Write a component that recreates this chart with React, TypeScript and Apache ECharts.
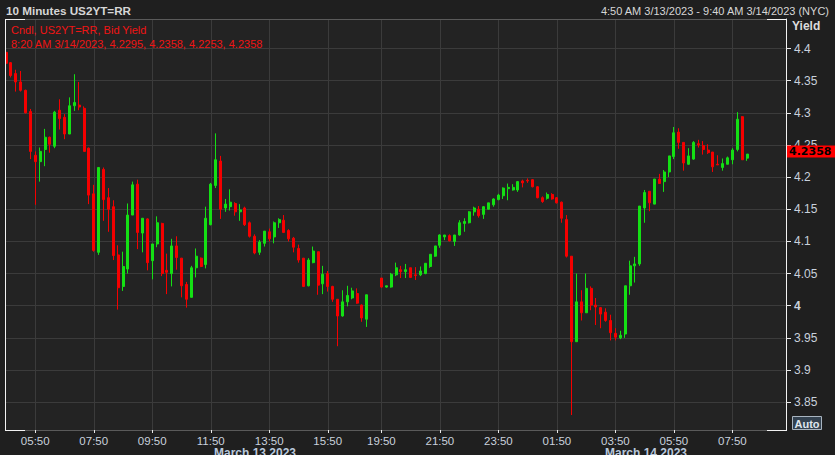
import React, { useEffect, useRef } from 'react';
import * as echarts from 'echarts';

// 10-minute candles, index 0 = 04:50 3/13/2023; nulls = no trade in slot
const opens = [
  4.394, 4.378, 4.361, 4.348, 4.335, 4.302, 4.234, 4.224, 4.243, 4.262,
  4.248, 4.304, 4.293, 4.267, 4.311, 4.312, 4.307, 4.245, 4.174, 4.083,
  4.212, 4.168, 4.154, 4.079, 4.030, 4.057, 4.141, 4.189, 4.113, 4.135,
  4.070, 4.096, 4.128, 4.055, 4.050, 4.093, 4.074, 4.033, 4.013, 4.059,
  4.074, 4.064, 4.126, 4.187, 4.225, 4.152, 4.154, 4.159, 4.146, 4.152,
  4.129, 4.108, 4.083, 4.097, 4.115, 4.107, 4.129, 4.133, 4.117, 4.105,
  4.089, 4.074, 4.031, 4.067, 4.084, 4.034, 4.050, 4.030, 4.010, 3.984,
  4.006, 4.012, 4.019, 4.001, 3.979, null, null, 4.043, 4.029, 4.029,
  4.048, 4.056, 4.053, 4.059, 4.048, 4.048, 4.050, 4.061, 4.077, 4.094,
  4.107, 4.109, 4.100, 4.110, 4.128, 4.129, 4.146, 4.150, 4.142, 4.150,
  4.157, 4.165, 4.171, 4.182, 4.180, 4.180, 4.194, 4.195, 4.196, 4.185,
  4.168, 4.167, 4.173, 4.168, 4.161, 4.134, 4.077, 3.944, 4.006, 3.989,
  4.027, 4.001, 3.997, 3.990, 3.977, 3.957, 3.950, 3.956, 4.031, 4.062,
  4.065, 4.152, 4.178, 4.158, 4.197, 4.193, 4.208, 4.232, 4.270, 4.254,
  4.220, 4.228, 4.252, 4.249, 4.242, 4.239, 4.220, 4.215, 4.220, 4.227,
  4.243, 4.294, 4.2295,
];
const closes = [
  4.377, 4.358, 4.348, 4.335, 4.300, 4.240, 4.224, 4.240, 4.262, 4.251,
  4.301, 4.291, 4.267, 4.311, 4.316, 4.309, 4.240, 4.172, 4.086, 4.215,
  4.165, 4.150, 4.078, 4.028, 4.061, 4.141, 4.188, 4.114, 4.136, 4.067,
  4.096, 4.129, 4.050, 4.052, 4.093, 4.075, 4.031, 4.010, 4.059, 4.077,
  4.061, 4.136, 4.189, 4.227, 4.150, 4.158, 4.161, 4.146, 4.149, 4.126,
  4.108, 4.082, 4.099, 4.116, 4.104, 4.129, 4.134, 4.114, 4.104, 4.091,
  4.071, 4.030, 4.071, 4.085, 4.032, 4.049, 4.030, 4.010, 3.984, 4.006,
  4.016, 4.023, 4.004, 3.981, 4.017, null, null, 4.029, 4.031, 4.049,
  4.059, 4.053, 4.056, 4.044, 4.047, 4.054, 4.066, 4.080, 4.093, 4.110,
  4.110, 4.101, 4.110, 4.129, 4.131, 4.146, 4.152, 4.140, 4.154, 4.160,
  4.166, 4.172, 4.183, 4.184, 4.184, 4.193, 4.191, 4.194, 4.185, 4.168,
  4.162, 4.173, 4.166, 4.160, 4.136, 4.077, 3.944, 4.006, 3.989, 4.027,
  4.001, 3.998, 3.987, 3.977, 3.958, 3.951, 3.954, 4.031, 4.062, 4.065,
  4.155, 4.176, 4.160, 4.197, 4.190, 4.208, 4.233, 4.269, 4.254, 4.222,
  4.233, 4.254, 4.250, 4.243, 4.238, 4.216, 4.219, 4.221, 4.230, 4.242,
  4.290, 4.227, 4.2358,
];
const lows = [
  4.376, 4.355, 4.333, 4.333, 4.299, 4.228, 4.157, 4.193, 4.217, 4.238,
  4.245, 4.274, 4.259, 4.267, 4.303, 4.304, 4.240, 4.158, 4.084, 4.079,
  4.132, 4.115, 4.071, 3.994, 4.023, 4.050, 4.141, 4.088, 4.083, 4.055,
  4.041, 4.091, 4.046, 4.018, 4.030, 4.056, 4.013, 3.997, 4.013, 4.044,
  4.060, 4.058, 4.125, 4.183, 4.135, 4.146, 4.148, 4.140, 4.132, 4.124,
  4.106, 4.080, 4.079, 4.092, 4.100, 4.097, 4.121, 4.113, 4.100, 4.083,
  4.067, 4.029, 4.030, 4.066, 4.017, 4.018, 4.022, 4.006, 3.937, 3.983,
  3.999, 4.010, 4.003, 3.975, 3.967, null, null, 4.028, 4.028, 4.028,
  4.046, 4.043, 4.043, 4.043, 4.040, 4.046, 4.049, 4.059, 4.076, 4.090,
  4.102, 4.100, 4.093, 4.109, 4.115, 4.128, 4.140, 4.137, 4.135, 4.150,
  4.154, 4.164, 4.166, 4.164, 4.179, 4.177, 4.184, 4.191, 4.184, 4.167,
  4.160, 4.165, 4.165, 4.159, 4.129, 4.075, 3.830, 3.944, 3.977, 3.989,
  3.993, 3.970, 3.965, 3.975, 3.946, 3.946, 3.948, 3.950, 4.017, 4.036,
  4.062, 4.129, 4.147, 4.158, 4.190, 4.177, 4.200, 4.228, 4.244, 4.210,
  4.219, 4.227, 4.246, 4.235, 4.236, 4.208, 4.219, 4.210, 4.220, 4.220,
  4.240, 4.227, 4.2253,
];
const highs = [
  4.424, 4.379, 4.367, 4.365, 4.336, 4.306, 4.240, 4.246, 4.275, 4.263,
  4.303, 4.321, 4.298, 4.324, 4.360, 4.348, 4.310, 4.246, 4.188, 4.215,
  4.215, 4.183, 4.164, 4.094, 4.084, 4.159, 4.193, 4.196, 4.136, 4.136,
  4.096, 4.139, 4.129, 4.081, 4.104, 4.108, 4.074, 4.037, 4.062, 4.089,
  4.075, 4.154, 4.191, 4.268, 4.233, 4.166, 4.181, 4.161, 4.158, 4.154,
  4.131, 4.111, 4.102, 4.116, 4.120, 4.131, 4.136, 4.141, 4.119, 4.107,
  4.095, 4.074, 4.074, 4.092, 4.084, 4.062, 4.054, 4.031, 4.010, 4.024,
  4.031, 4.028, 4.027, 4.002, 4.017, null, null, 4.043, 4.031, 4.051,
  4.067, 4.062, 4.065, 4.059, 4.060, 4.061, 4.066, 4.080, 4.093, 4.111,
  4.110, 4.111, 4.110, 4.133, 4.136, 4.147, 4.154, 4.155, 4.155, 4.160,
  4.167, 4.174, 4.184, 4.190, 4.189, 4.194, 4.196, 4.198, 4.197, 4.186,
  4.170, 4.176, 4.175, 4.169, 4.162, 4.141, 4.077, 4.050, 4.024, 4.050,
  4.030, 4.012, 3.998, 3.996, 3.986, 3.965, 3.961, 4.031, 4.070, 4.076,
  4.155, 4.180, 4.178, 4.197, 4.205, 4.211, 4.233, 4.278, 4.276, 4.254,
  4.245, 4.256, 4.258, 4.256, 4.251, 4.239, 4.234, 4.229, 4.232, 4.245,
  4.301, 4.295, 4.2358,
];

const yTicks = [3.85, 3.9, 3.95, 4.0, 4.05, 4.1, 4.15, 4.2, 4.25, 4.3, 4.35, 4.4];
const Y_MIN = 3.8067;
const Y_MAX = 4.4459;

// time slots of the axis: 04:50 3/13 .. 09:40 3/14 (quiet evening hours skipped)
const SLOT_COUNT = 161;
const START_MIN = 4 * 60 + 50;
const BREAK_INDEX = 75;
const BREAK_SKIP = 130;
const pad = (n: number) => (n < 10 ? '0' + n : '' + n);
const categories: string[] = [];
for (let i = 0; i < SLOT_COUNT; i++) {
  let m = START_MIN + i * 10 + (i >= BREAK_INDEX ? BREAK_SKIP : 0);
  m = m % 1440;
  categories.push(pad(Math.floor(m / 60)) + ':' + pad(m % 60));
}
const lastIndex = closes.length - 1;
const lastTimeLabel = '8:20 AM 3/14/2023';

const isLabelSlot = (_idx: number, value: string) => {
  const [h, m] = value.split(':').map(Number);
  return m === 50 && h % 2 === 1;
};

const UP = '#14e014';
const DOWN = '#f50000';
const TEXT = '#c9d1dc';
const FONT = 'Liberation Sans, Arial, sans-serif';

export default function App() {
  const ref = useRef<HTMLDivElement>(null);
  useEffect(() => {
    if (!ref.current) return;
    const chart = echarts.init(ref.current, null, { renderer: 'svg' });
    const data = opens.map((o, i) =>
      o == null ? ['-', '-', '-', '-'] : [o, closes[i], lows[i], highs[i]]
    );
    const option: any = {
      animation: false,
      backgroundColor: '#1f1f1f',
      textStyle: { fontFamily: FONT },
      grid: {
        left: 6, right: 49, top: 19, bottom: 25,
        show: true, backgroundColor: '#232323', borderWidth: 0,
      },
      xAxis: {
        type: 'category',
        data: categories,
        boundaryGap: false,
        axisLine: { show: true, lineStyle: { color: '#5a5a5a', width: 1 } },
        axisTick: { show: true, interval: isLabelSlot, length: 3, lineStyle: { color: '#e8e8e8' } },
        axisLabel: { interval: isLabelSlot, color: TEXT, fontSize: 11.5, margin: 5, fontFamily: FONT },
        splitLine: { show: true, interval: isLabelSlot, lineStyle: { color: '#3b3b3b', width: 1 } },
      },
      yAxis: {
        type: 'value',
        position: 'right',
        min: Y_MIN,
        max: Y_MAX,
        axisLine: { show: true, lineStyle: { color: '#f2f2f2', width: 1 } },
        axisTick: { show: true, length: 5, customValues: yTicks, lineStyle: { color: '#e8e8e8' } },
        axisLabel: {
          customValues: yTicks,
          color: TEXT,
          fontSize: 12,
          margin: 8,
          fontFamily: FONT,
          formatter: (v: number) => {
            const s = String(+v.toFixed(2));
            return s === '4' ? '{b|4}' : s;
          },
          rich: { b: { fontWeight: 'bold', color: TEXT, fontSize: 12, fontFamily: FONT } },
        },
        splitLine: { show: true, lineStyle: { color: '#3b3b3b', width: 1 } },
      },
      series: [
        {
          type: 'candlestick',
          data,
          barWidth: 2.5,
          clip: false,
          z: 3,
          itemStyle: {
            color: UP, color0: DOWN, borderColor: UP, borderColor0: DOWN, borderWidth: 1,
          },
          markLine: {
            silent: true,
            symbol: ['none', 'none'],
            z: 20,
            lineStyle: { color: 'rgba(0,0,0,0)', width: 0 },
            label: {
              show: true,
              position: 'end',
              distance: 1,
              formatter: String(closes[lastIndex]),
              backgroundColor: '#ff0000',
              color: '#000000',
              fontWeight: 'bold',
              fontFamily: 'DejaVu Sans, sans-serif',
              fontSize: 11,
              padding: [1, 6, 0, 2],
            },
            emphasis: { disabled: true },
            data: [{ yAxis: closes[lastIndex] }],
          },
        },
      ],
      graphic: [
        { type: 'text', z: 100, style: { text: '10 Minutes US2YT=RR', x: 6, y: 10, textVerticalAlign: 'middle', font: 'bold 11.7px ' + FONT, fill: '#d6d6d6' } },
        { type: 'text', z: 100, style: { text: '4:50 AM 3/13/2023 - 9:40 AM 3/14/2023 (NYC)', x: 829, y: 11, textAlign: 'right', textVerticalAlign: 'middle', font: '11px ' + FONT, fill: '#d6d6d6' } },
        { type: 'text', z: 100, style: { text: 'Cndl, US2YT=RR, Bid Yield', x: 11, y: 30, textVerticalAlign: 'middle', font: '11px ' + FONT, fill: '#f01414' } },
        { type: 'text', z: 100, style: { text: `${lastTimeLabel}, ${opens[lastIndex]}, ${highs[lastIndex]}, ${lows[lastIndex]}, ${closes[lastIndex]}`, x: 11, y: 44, textVerticalAlign: 'middle', font: '11px ' + FONT, fill: '#f01414' } },
        { type: 'text', z: 100, style: { text: 'Yield', x: 792, y: 26, textVerticalAlign: 'middle', font: 'bold 12px ' + FONT, fill: '#dcdcdc' } },
        // frame
        { type: 'line', z: 100, shape: { x1: 5, y1: 19.5, x2: 787, y2: 19.5 }, style: { stroke: '#5a5a5a', lineWidth: 1 } },
        { type: 'line', z: 101, shape: { x1: 5.5, y1: 19, x2: 5.5, y2: 430 }, style: { stroke: '#f2f2f2', lineWidth: 1 } },
        { type: 'line', z: 101, shape: { x1: 5, y1: 19.5, x2: 25, y2: 19.5 }, style: { stroke: '#f2f2f2', lineWidth: 1 } },
        { type: 'line', z: 101, shape: { x1: 767, y1: 19.5, x2: 787, y2: 19.5 }, style: { stroke: '#f2f2f2', lineWidth: 1 } },
        { type: 'line', z: 101, shape: { x1: 5, y1: 430.5, x2: 25, y2: 430.5 }, style: { stroke: '#f2f2f2', lineWidth: 1 } },
        { type: 'line', z: 101, shape: { x1: 767, y1: 430.5, x2: 787, y2: 430.5 }, style: { stroke: '#f2f2f2', lineWidth: 1 } },
        // Auto button
        { type: 'rect', z: 100, shape: { x: 792.5, y: 416.5, width: 29, height: 13 }, style: { fill: '#33414f', stroke: '#a8b4c0', lineWidth: 1 } },
        { type: 'text', z: 101, style: { text: 'Auto', x: 807, y: 423.5, textAlign: 'center', textVerticalAlign: 'middle', font: 'bold 11px ' + FONT, fill: '#dfe6ee' } },
        // date labels (cut by the bottom edge, as in the source)
        { type: 'text', z: 100, style: { text: 'March 13 2023', x: 255, y: 447, textAlign: 'center', textVerticalAlign: 'top', font: 'bold 12px ' + FONT, fill: '#b9c8dc' } },
        { type: 'text', z: 100, style: { text: 'March 14 2023', x: 646, y: 447, textAlign: 'center', textVerticalAlign: 'top', font: 'bold 12px ' + FONT, fill: '#b9c8dc' } },
      ],
    };
    chart.setOption(option);
    return () => chart.dispose();
  }, []);
  return (
    <div
      ref={ref}
      style={{ position: 'fixed', left: 0, top: 0, width: 835, height: 455 }}
    />
  );
}
